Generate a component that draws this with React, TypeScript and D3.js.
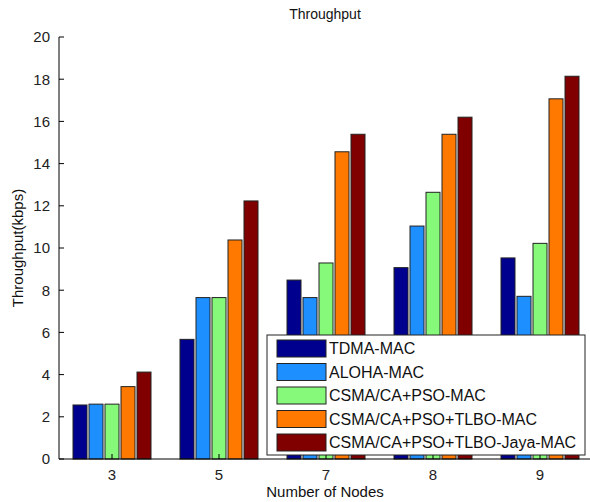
import React from "react";
import * as d3 from "d3";

const nodes = ["3", "5", "7", "8", "9"];
const seriesNames = [
  "TDMA-MAC",
  "ALOHA-MAC",
  "CSMA/CA+PSO-MAC",
  "CSMA/CA+PSO+TLBO-MAC",
  "CSMA/CA+PSO+TLBO-Jaya-MAC",
];
const tdma = [2.56, 5.67, 8.48, 9.07, 9.53];
const aloha = [2.6, 7.65, 7.65, 11.04, 7.71];
const pso = [2.6, 7.65, 9.29, 12.64, 10.22];
const tlbo = [3.43, 10.38, 14.56, 15.39, 17.07];
const jaya = [4.12, 12.23, 15.39, 16.2, 18.14];
const yTicks = [0, 2, 4, 6, 8, 10, 12, 14, 16, 18, 20];
const colors = ["#00008f", "#1e8fff", "#86f97a", "#ff7800", "#800000"];

const W = 590;
const H = 502;
const font = "Liberation Sans, Arial, sans-serif";

export default function App() {
  const series = [tdma, aloha, pso, tlbo, jaya];

  const x = d3.scaleBand<string>().domain(nodes).range([58.5, 593.5]).padding(0);
  const inner = d3
    .scaleBand<number>()
    .domain(d3.range(series.length))
    .range([0, 80])
    .paddingInner(0.125)
    .paddingOuter(0.0625);
  const y = d3.scaleLinear().domain([0, 20]).range([459, 37]);

  const left = 59;
  const bottom = y(0);

  const lg = { x: 267, y: 335, w: 318, h: 120 };
  const rowY = d3.scaleLinear().domain([0, 4]).range([lg.y + 13.5, lg.y + 107.5]);

  return (
    <svg width={W} height={H} style={{ position: "absolute", left: 0, top: 0, background: "#fff" }}>
      <rect width={W} height={H} fill="#fff" />
      {series.map((vals, si) =>
        vals.map((v, i) => {
          const gx = x(nodes[i])! + (x.bandwidth() - 80) / 2;
          return (
            <rect
              key={`${si}-${i}`}
              x={gx + inner(si)!}
              y={y(v)}
              width={inner.bandwidth()}
              height={bottom - y(v)}
              fill={colors[si]}
              stroke="#222"
              strokeWidth={1}
            />
          );
        })
      )}

      {/* axes */}
      <line x1={left} x2={W} y1={bottom} y2={bottom} stroke="#000" />
      <line x1={left} x2={left} y1={y(20)} y2={bottom} stroke="#000" />
      {yTicks.map((t) => (
        <g key={t}>
          <line x1={left} x2={left + 5} y1={y(t)} y2={y(t)} stroke="#000" />
          <text
            x={left - 9}
            y={y(t)}
            dy="0.36em"
            textAnchor="end"
            fontFamily={font}
            fontSize={15}
            fill="#222"
          >
            {t}
          </text>
        </g>
      ))}
      {nodes.map((n) => {
        const cx = x(n)! + x.bandwidth() / 2;
        return (
          <g key={n}>
            <line x1={cx} x2={cx} y1={bottom} y2={bottom - 5} stroke="#000" />
            <text x={cx} y={bottom + 21} textAnchor="middle" fontFamily={font} fontSize={15} fill="#222">
              {n}
            </text>
          </g>
        );
      })}

      <text x={325} y={19} textAnchor="middle" fontFamily={font} fontSize={14} fill="#111">
        Throughput
      </text>
      <text x={325} y={497} textAnchor="middle" fontFamily={font} fontSize={15} fill="#111">
        Number of Nodes
      </text>
      <text
        transform={`translate(23,248) rotate(-90)`}
        textAnchor="middle"
        fontFamily={font}
        fontSize={15}
        fill="#111"
      >
        Throughput(kbps)
      </text>

      {/* legend */}
      <rect x={lg.x} y={lg.y} width={lg.w} height={lg.h} fill="#fff" stroke="#222" />
      {seriesNames.map((name, i) => (
        <g key={name}>
          <rect
            x={277}
            y={rowY(i) - 8.5}
            width={49}
            height={17}
            fill={colors[i]}
            stroke="#222"
          />
          <text x={329} y={rowY(i)} dy="0.36em" fontFamily={font} fontSize={16} fill="#111">
            {name}
          </text>
        </g>
      ))}
    </svg>
  );
}
